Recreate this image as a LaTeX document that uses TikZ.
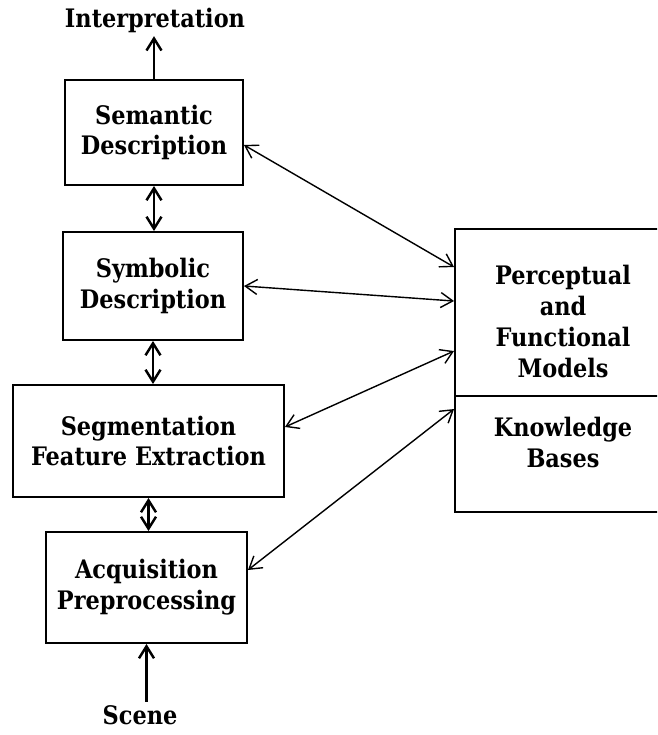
\documentclass[tikz,border=0pt]{standalone}
\usepackage{fontspec}
\usepackage{tikz}
\usetikzlibrary{arrows.meta}

\newfontfamily\figfont{DejaVu Serif}[FakeStretch=0.88]

\tikzset{
  stage/.style={draw, line width=1.1pt, align=center, inner sep=0pt,
    font=\figfont\bfseries\fontsize{14.5}{17.6}\selectfont},
  plaintext/.style={align=center, inner sep=2pt,
    font=\figfont\bfseries\fontsize{14.5}{17.6}\selectfont},
  flow/.style={line width=1.4pt},
  link/.style={line width=0.8pt}
}

\begin{document}
\begin{tikzpicture}[>={Straight Barb[length=2.4mm,width=3mm]}]
        \useasboundingbox (0,0) rectangle (13.14,-14.7);
        \clip (0,0) rectangle (13.14,-14.7);

        % processing levels
        \node[stage, minimum width=3.56cm, minimum height=2.1cm] (sem) at (3.08,-2.65) {Semantic\\Description};
        \node[stage, minimum width=3.6cm, minimum height=2.16cm] (sym) at (3.06,-5.72) {Symbolic\\Description};
        \node[stage, minimum width=5.42cm, minimum height=2.24cm] (seg) at (2.97,-8.82) {Segmentation\\Feature Extraction};
        \node[stage, minimum width=4.02cm, minimum height=2.22cm] (acq) at (2.93,-11.75) {Acquisition\\Preprocessing};

        \node[plaintext] (interp) at (3.1,-0.4) {Interpretation};
        \node[plaintext] (scene) at (2.8,-14.3) {Scene};

        % models and knowledge
        \node[stage, minimum width=4.3cm, minimum height=5.66cm] (kb) at (11.25,-7.41) {};
        \node[plaintext] (models) at (11.26,-6.43) {Perceptual\\and\\Functional\\Models};
        \node[plaintext] (bases) at (11.26,-8.85) {Knowledge\\Bases};
        \draw[line width=1.1pt] (kb.west |- 0,-7.92) -- (kb.east |- 0,-7.92);

        \draw[flow, ->] (sem.north) -- (sem.north |- interp.south);
        \draw[flow, <->] (sem.south) -- (sem.south |- sym.north);
        \draw[flow, <->] (sym.south) -- (sym.south |- seg.north);
        \draw[flow, <->] (seg.south) -- (seg.south |- acq.north);
        \draw[flow, ->] (acq.south |- scene.north) -- (acq.south);

        \draw[link, <->] ([yshift=-0.25cm]sem.east) -- ([yshift=-0.78cm]kb.north west);
        \draw[link, <->] (sym.east) -- ([yshift=-1.46cm]kb.north west);
        \draw[link, <->] ([yshift=0.28cm]seg.east) -- ([yshift=-2.46cm]kb.north west);
        \draw[link, <->] ([yshift=0.35cm]acq.east) -- ([yshift=-3.62cm]kb.north west);
    \end{tikzpicture}
\end{document}
